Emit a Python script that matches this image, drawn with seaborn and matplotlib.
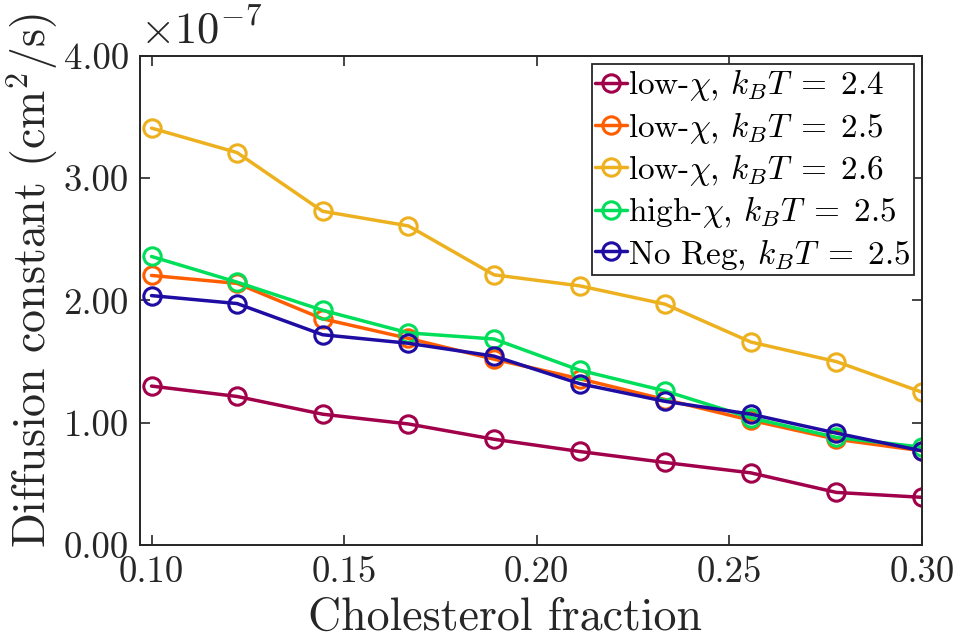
import matplotlib
matplotlib.use("Agg")
import matplotlib.pyplot as plt
from matplotlib.ticker import FormatStrFormatter
import seaborn as sns
import pandas as pd

# Cholesterol fraction sampled in each simulation set
chol_fraction = [0.1000, 0.1222, 0.1444, 0.1667, 0.1889,
                 0.2111, 0.2333, 0.2556, 0.2778, 0.3000]

# Diffusion constants in units of 1e-7 cm^2/s
d_low_24 = [1.30, 1.215, 1.07, 0.99, 0.865, 0.765, 0.675, 0.59, 0.43, 0.39]
d_low_25 = [2.205, 2.14, 1.85, 1.69, 1.52, 1.36, 1.19, 1.02, 0.865, 0.77]
d_low_26 = [3.41, 3.21, 2.73, 2.61, 2.21, 2.12, 1.97, 1.66, 1.50, 1.25]
d_high_25 = [2.36, 2.15, 1.92, 1.735, 1.685, 1.43, 1.26, 1.04, 0.88, 0.80]
d_noreg_25 = [2.04, 1.975, 1.72, 1.65, 1.545, 1.32, 1.175, 1.07, 0.915, 0.77]

labels = [r"low-$\chi$, $k_BT\;=\;2.4$",
          r"low-$\chi$, $k_BT\;=\;2.5$",
          r"low-$\chi$, $k_BT\;=\;2.6$",
          r"high-$\chi$, $k_BT\;=\;2.5$",
          r"No Reg, $k_BT\;=\;2.5$"]
colors = ["#A1004A", "#FF5E00", "#EDB120", "#00DE5A", "#1E0CA3"]
series = [d_low_24, d_low_25, d_low_26, d_high_25, d_noreg_25]

sns.set_theme(style="ticks")
plt.rcParams["font.family"] = "serif"
plt.rcParams["font.serif"] = ["cmr10"]
plt.rcParams["mathtext.fontset"] = "cm"
plt.rcParams["axes.formatter.use_mathtext"] = True
plt.rcParams["axes.unicode_minus"] = False

ink = "#262626"
fig = plt.figure(figsize=(9.58, 6.39), dpi=100)
ax = fig.add_axes([0.1461, 0.1471, 0.8163, 0.7653])

for lab, col, vals in zip(labels, colors, series):
    df = pd.DataFrame({"x": chol_fraction, "y": vals})
    sns.lineplot(data=df, x="x", y="y", ax=ax, color=col, label=lab,
                 linewidth=2.5, marker="o", markersize=12.5,
                 markerfacecolor="none", markeredgecolor=col,
                 markeredgewidth=2.2)

ax.set_xlim(0.097, 0.30)
ax.set_ylim(0, 4)
ax.set_xticks([0.10, 0.15, 0.20, 0.25, 0.30])
ax.set_yticks([0, 1, 2, 3, 4])
ax.xaxis.set_major_formatter(FormatStrFormatter("%.2f"))
ax.yaxis.set_major_formatter(FormatStrFormatter("%.2f"))

for sp in ax.spines.values():
    sp.set_visible(True)
    sp.set_color(ink)
    sp.set_linewidth(1.4)
ax.tick_params(direction="in", top=True, right=True, length=7, width=1.2,
               colors=ink, labelsize=26.5, pad=8)
for t in ax.get_xticklabels() + ax.get_yticklabels():
    t.set_color(ink)

ax.set_xlabel("Cholesterol fraction", fontsize=33, color=ink)
ax.xaxis.set_label_coords(0.467, -0.106)
ax.set_ylabel(r"Diffusion constant (cm$^2$/s)", fontsize=33, color=ink)
ax.yaxis.set_label_coords(-0.102, 0.54)
ax.text(0.0, 1.008, r"$\times10^{-7}$", transform=ax.transAxes,
        ha="left", va="bottom", fontsize=32, color=ink)

leg = ax.legend(loc="upper right", bbox_to_anchor=(0.9898, 0.9836),
                borderaxespad=0, fontsize=24, frameon=True, fancybox=False,
                framealpha=1, edgecolor=ink, handlelength=0.95,
                handletextpad=0.05, borderpad=0.1, labelspacing=0.19)
leg.get_frame().set_linewidth(1.3)
for t in leg.get_texts():
    t.set_color("black")

fig.savefig("out.png", dpi=100)
